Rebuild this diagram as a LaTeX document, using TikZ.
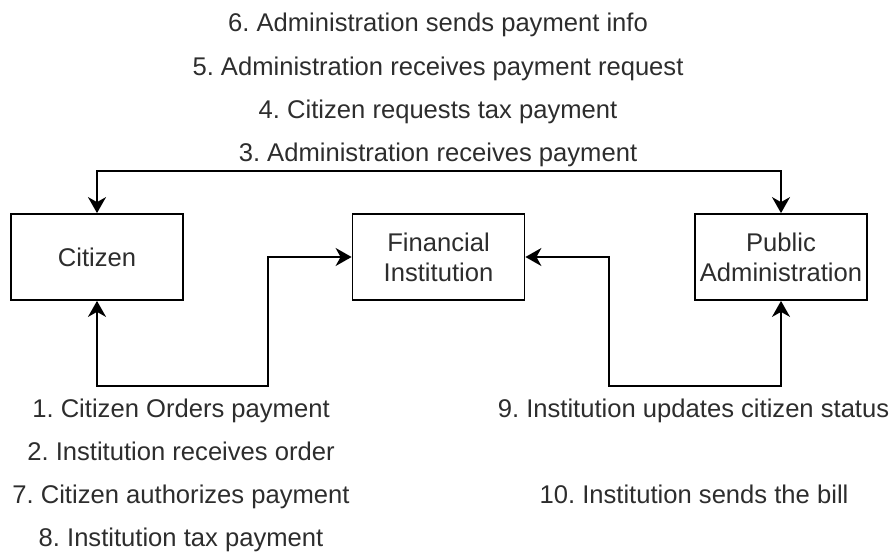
\documentclass[tikz,border=0pt]{standalone}
\usepackage{fontspec}
\setmainfont{Liberation Sans}
\usetikzlibrary{arrows.meta}
\definecolor{txt}{RGB}{45,45,45}
\frenchspacing
\begin{document}
\begin{tikzpicture}[x=1pt,y=-1pt,
  every node/.style={font=\fontsize{25.6}{30}\selectfont, text=txt},
  block/.style={draw=black, line width=1.8pt, fill=white,
    minimum width=172pt, minimum height=86pt, align=center, inner sep=0pt},
  label/.style={anchor=base, inner sep=0pt},
  link/.style={line width=1.8pt, draw=black,
    {Stealth[length=16pt,width=18pt,inset=5pt]}-{Stealth[length=16pt,width=18pt,inset=5pt]}}
]
\useasboundingbox (0,0) rectangle (893,551);

% the three parties
\node[block] (cit) at (97,257) {Citizen};
\node[block] (fin) at (438.5,257) {Financial\\Institution};
\node[block] (pub) at (781,257) {Public\\Administration};

% bend points of the lower connectors
\coordinate (lbend) at (268,386);
\coordinate (rbend) at (609,386);

% connectors
\draw[link] (cit.north) -- ++(0,-42) -| (pub.north);
\draw[link] (cit.south) |- (lbend) |- (fin.west);
\draw[link] (fin.east) -| (rbend) -| (pub.south);

% steps above the top connector
\node[label] (s6) at (438,31.5) {6. Administration sends payment info};
\node[label] (s5) at (438,75) {5. Administration receives payment request};
\node[label] (s4) at (438,118) {4. Citizen requests tax payment};
\node[label] (s3) at (438,161) {3. Administration receives payment};

% steps below the left connector
\node[label] (s1) at (181,417) {1. Citizen Orders payment};
\node[label] (s2) at (181,460) {2. Institution receives order};
\node[label] (s7) at (181,503) {7. Citizen authorizes payment};
\node[label] (s8) at (181,546) {8. Institution tax payment};

% steps below the right connector
\node[label] (s9) at (693.5,417) {9. Institution updates citizen status};
\node[label] (s10) at (694,503) {10. Institution sends the bill};
\end{tikzpicture}
\end{document}
